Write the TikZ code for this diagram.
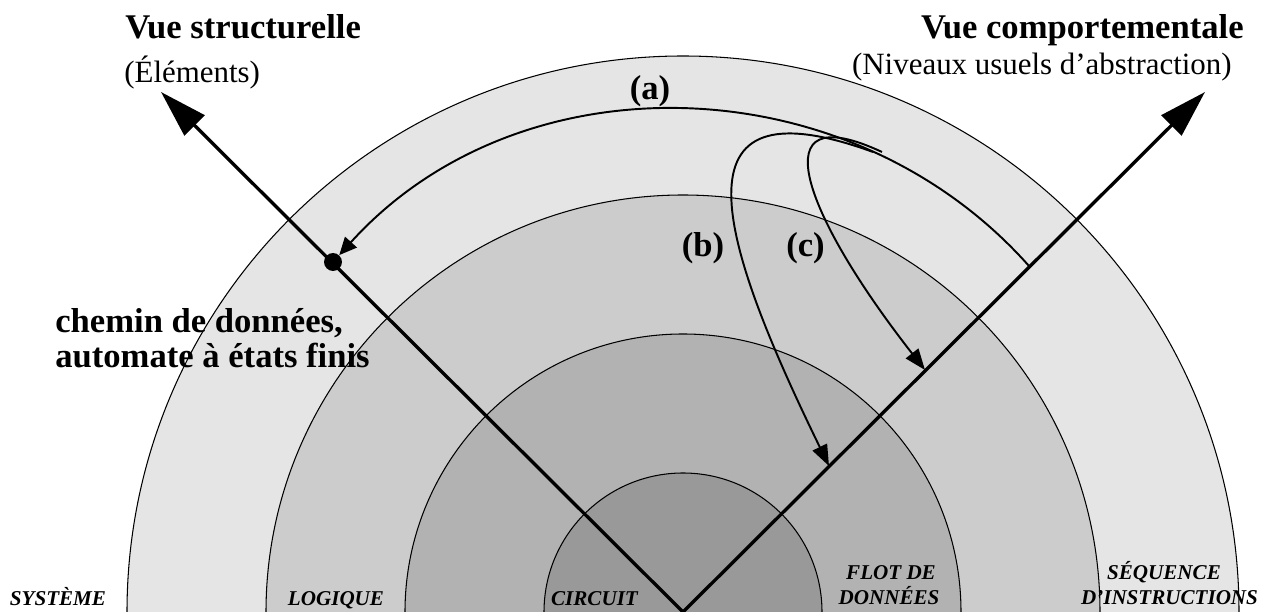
\documentclass[tikz,border=0pt]{standalone}
\usepackage{fontspec}
\setmainfont{Liberation Serif}
\usetikzlibrary{arrows.meta}
\definecolor{ringA}{gray}{0.90}
\definecolor{ringB}{gray}{0.80}
\definecolor{ringC}{gray}{0.70}
\definecolor{ringD}{gray}{0.60}
\begin{document}
\begin{tikzpicture}[x=0.02cm,y=0.02cm,
  ring/.style={draw=black,line width=0.6pt},
  axisline/.style={line width=1.9pt,-{Triangle[length=27pt,width=16pt]}},
  flow/.style={line width=1.1pt,-{Triangle[length=12pt,width=9pt]}},
  flowa/.style={line width=1.1pt,-{Triangle[length=10pt,width=9pt]}},
  title/.style={font=\fontsize{19.7}{23}\selectfont\bfseries,inner sep=0},
  sub/.style={font=\fontsize{17.6}{21}\selectfont,inner sep=0},
  lbl/.style={font=\fontsize{19.7}{23}\selectfont\bfseries,inner sep=0},
  level/.style={font=\fontsize{12}{14.2}\selectfont\bfseries\itshape,inner sep=0}]
\useasboundingbox (0,0) rectangle (1262,612);
\coordinate (O) at (683,0);
% rings
\filldraw[fill=ringA,ring] (127,0) arc[start angle=180,end angle=0,radius=556];
\filldraw[fill=ringB,ring] (266,0) arc[start angle=180,end angle=0,radius=417];
\filldraw[fill=ringC,ring] (405,0) arc[start angle=180,end angle=0,radius=278];
\filldraw[fill=ringD,ring] (544,0) arc[start angle=180,end angle=0,radius=139];
% axes
\coordinate (tipL) at (161,520);
\coordinate (tipR) at (1205,520);
\draw[axisline] (O) -- (tipL);
\draw[axisline] (O) -- (tipR);
% dot
\node[circle,fill=black,inner sep=0,minimum size=10.2pt] (dot) at (333,350) {};
% curves
\coordinate (aS) at (1029,346);
\coordinate (bS) at (873,460);
\coordinate (bE) at (829,146);
\coordinate (cS) at (882,460);
\coordinate (cE) at (925,242);
\draw[flowa] (aS) to[out=131.6,in=47.9] (dot);
\draw[flow] (bS) to[out=160,in=116,out distance=220*0.02cm,in distance=250*0.02cm] (bE);
\draw[flow] (cS) to[out=155,in=128,out distance=135*0.02cm,in distance=200*0.02cm] (cE);
% texts
\node[title,anchor=base west] (vs) at (125,573) {Vue structurelle};
\node[sub,anchor=base west] (el) at (124,529) {(Éléments)};
\node[title,anchor=base east] (vc) at (1244,573) {Vue comportementale};
\node[sub,anchor=base east] (na) at (1232,537) {(Niveaux usuels d’abstraction)};
\node[lbl,anchor=base] (la) at (650,512) {(a)};
\node[lbl,anchor=base] (lb) at (703,355) {(b)};
\node[lbl,anchor=base] (lc) at (805.5,355) {(c)};
\node[lbl,anchor=base west] (ch1) at (55,279) {chemin de données,};
\node[lbl,anchor=base west] (ch2) at (55,244) {automate à états finis};
\node[level,anchor=base] (sys) at (58,6) {SYSTÈME};
\node[level,anchor=base] (log) at (336,6) {LOGIQUE};
\node[level,anchor=base] (cir) at (594.5,6) {CIRCUIT};
\node[level,anchor=base] (flo1) at (891,32) {FLOT DE};
\node[level,anchor=base] (flo2) at (889,7) {DONNÉES};
\node[level,anchor=base] (seq1) at (1164,32) {SÉQUENCE};
\node[level,anchor=base] (seq2) at (1169.5,7) {D’INSTRUCTIONS};
\end{tikzpicture}
\end{document}
